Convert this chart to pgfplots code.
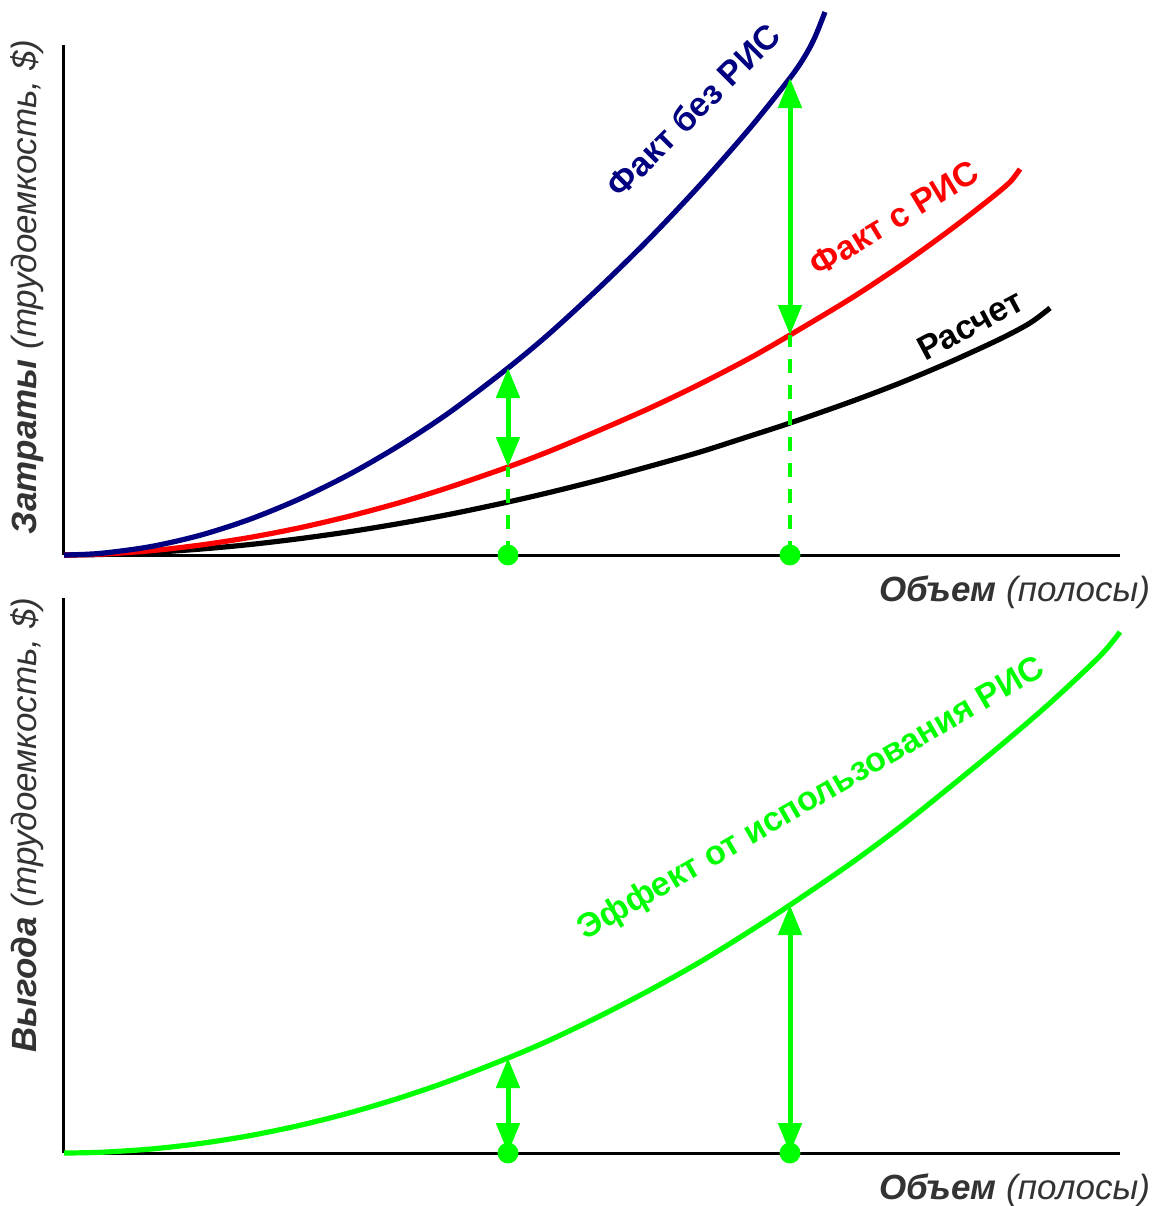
\documentclass[border=0pt]{standalone}
\usepackage{fontspec}
\setmainfont{Liberation Sans}
\usepackage{pgfplots}
\pgfplotsset{compat=1.18}
\usetikzlibrary{arrows.meta}

\definecolor{navy}{RGB}{0,0,128}
\definecolor{rred}{RGB}{255,0,0}
\definecolor{lgreen}{RGB}{0,255,0}
\definecolor{labgray}{RGB}{51,51,51}

% curves, x and y in picture pixels (y measured up from the x axis)
\pgfplotstableread{
x y
64 0
100 1.6
150 8.3
200 19.7
250 35.8
300 56.3
350 81
400 110
450 143
508 187
550 222
600 268
650 317
700 370
750 427
790 477
805 499
815 518
825 543
}\withoutRIS
\pgfplotstableread{
x y
64 0
100 0.8
150 4.2
200 9.9
250 17.6
300 27.3
350 39
400 52.5
450 68
508 88
550 104
600 125
650 147
700 171
750 197
790 220
850 256
900 289
950 325
990 356
1010 373
1020 386
}\withRIS
\pgfplotstableread{
x y
64 0
100 0.5
150 2.5
200 5.9
250 10.5
300 16.4
350 23.4
400 31.6
450 40.8
508 53
550 62.7
600 75.2
650 88.8
700 103
750 119
790 132
850 153
900 172
950 193
1000 216
1030 232
1050 247
}\calc
\pgfplotstableread{
x y
64 0
100 0.7
150 3.9
200 9.5
250 17.4
300 27.7
350 40.3
400 55.2
450 72.3
508 95
550 113
600 137
650 163
700 191
750 222
790 248
850 289
900 326
950 366
1000 407
1050 450
1100 497
1120 521
}\effect

\pgfplotsset{
  panel/.style={
    x=0.5pt, y=0.5pt,
    xmin=64, xmax=1120, ymin=0,
    enlargelimits=false,
    axis lines=left,
    axis line style={-, line width=1.5pt, black},
    xtick=\empty, ytick=\empty,
    clip=false,
  },
  curve/.style={line width=2.6pt, smooth, mark=none},
  garrow/.style={lgreen, line width=2.5pt, mark=none,
    {Triangle[length=15pt,width=11.5pt]}-{Triangle[length=15pt,width=11.5pt]}},
  gdash/.style={lgreen, line width=1.8pt, mark=none, dash pattern=on 7pt off 6pt},
  gdot/.style={lgreen, only marks, mark=*, mark size=5pt, mark options={draw=lgreen, fill=lgreen}},
}
\tikzset{
  axlab/.style={labgray, font=\fontsize{17.5}{20}\selectfont},
  crvlab/.style={font=\fontsize{17}{20}\selectfont\bfseries},
}

\begin{document}
\begin{tikzpicture}
\useasboundingbox (0,0) rectangle (579.5pt,-603pt);

% top panel
\begin{axis}[panel, ymax=510, at={(32pt,-277.5pt)}, anchor=south west]
  \addplot[curve, black] table {\calc};
  \addplot[curve, rred] table {\withRIS};
  \addplot[curve, navy] table {\withoutRIS};

  \addplot[gdash] coordinates {(508,0) (508,88)};
  \addplot[gdash] coordinates {(790,0) (790,220)};
  \addplot[garrow] coordinates {(508,88) (508,187)};
  \addplot[garrow] coordinates {(790,220) (790,477)};
  \addplot[gdot] coordinates {(508,0) (790,0)};

  \node[rotate=45, navy, crvlab] at (axis cs:693,445) {Факт без РИС};
  \node[rotate=31, rred, crvlab] at (axis cs:894,337) {Факт с РИС};
  \node[rotate=28, black, crvlab] at (axis cs:970,230) {Расчет};

  \node[rotate=90, axlab] at (axis cs:27,268)
    {\bfseries\itshape Затраты \mdseries(трудоемкость, \$)};
  \node[anchor=east, axlab] at (axis cs:1157,-37)
    {\bfseries\itshape Объем \mdseries(полосы)};
\end{axis}

% bottom panel
\begin{axis}[panel, ymax=555, at={(32pt,-576.5pt)}, anchor=south west]
  \addplot[curve, lgreen] table {\effect};

  \addplot[garrow] coordinates {(508,0) (508,95)};
  \addplot[garrow] coordinates {(790,0) (790,248)};
  \addplot[gdot] coordinates {(508,0) (790,0)};

  \node[rotate=30, lgreen, crvlab] at (axis cs:812,353) {Эффект от использования РИС};

  \node[rotate=90, axlab] at (axis cs:27,328)
    {\bfseries\itshape Выгода \mdseries(трудоемкость, \$)};
  \node[anchor=east, axlab] at (axis cs:1157,-37)
    {\bfseries\itshape Объем \mdseries(полосы)};
\end{axis}
\end{tikzpicture}
\end{document}
